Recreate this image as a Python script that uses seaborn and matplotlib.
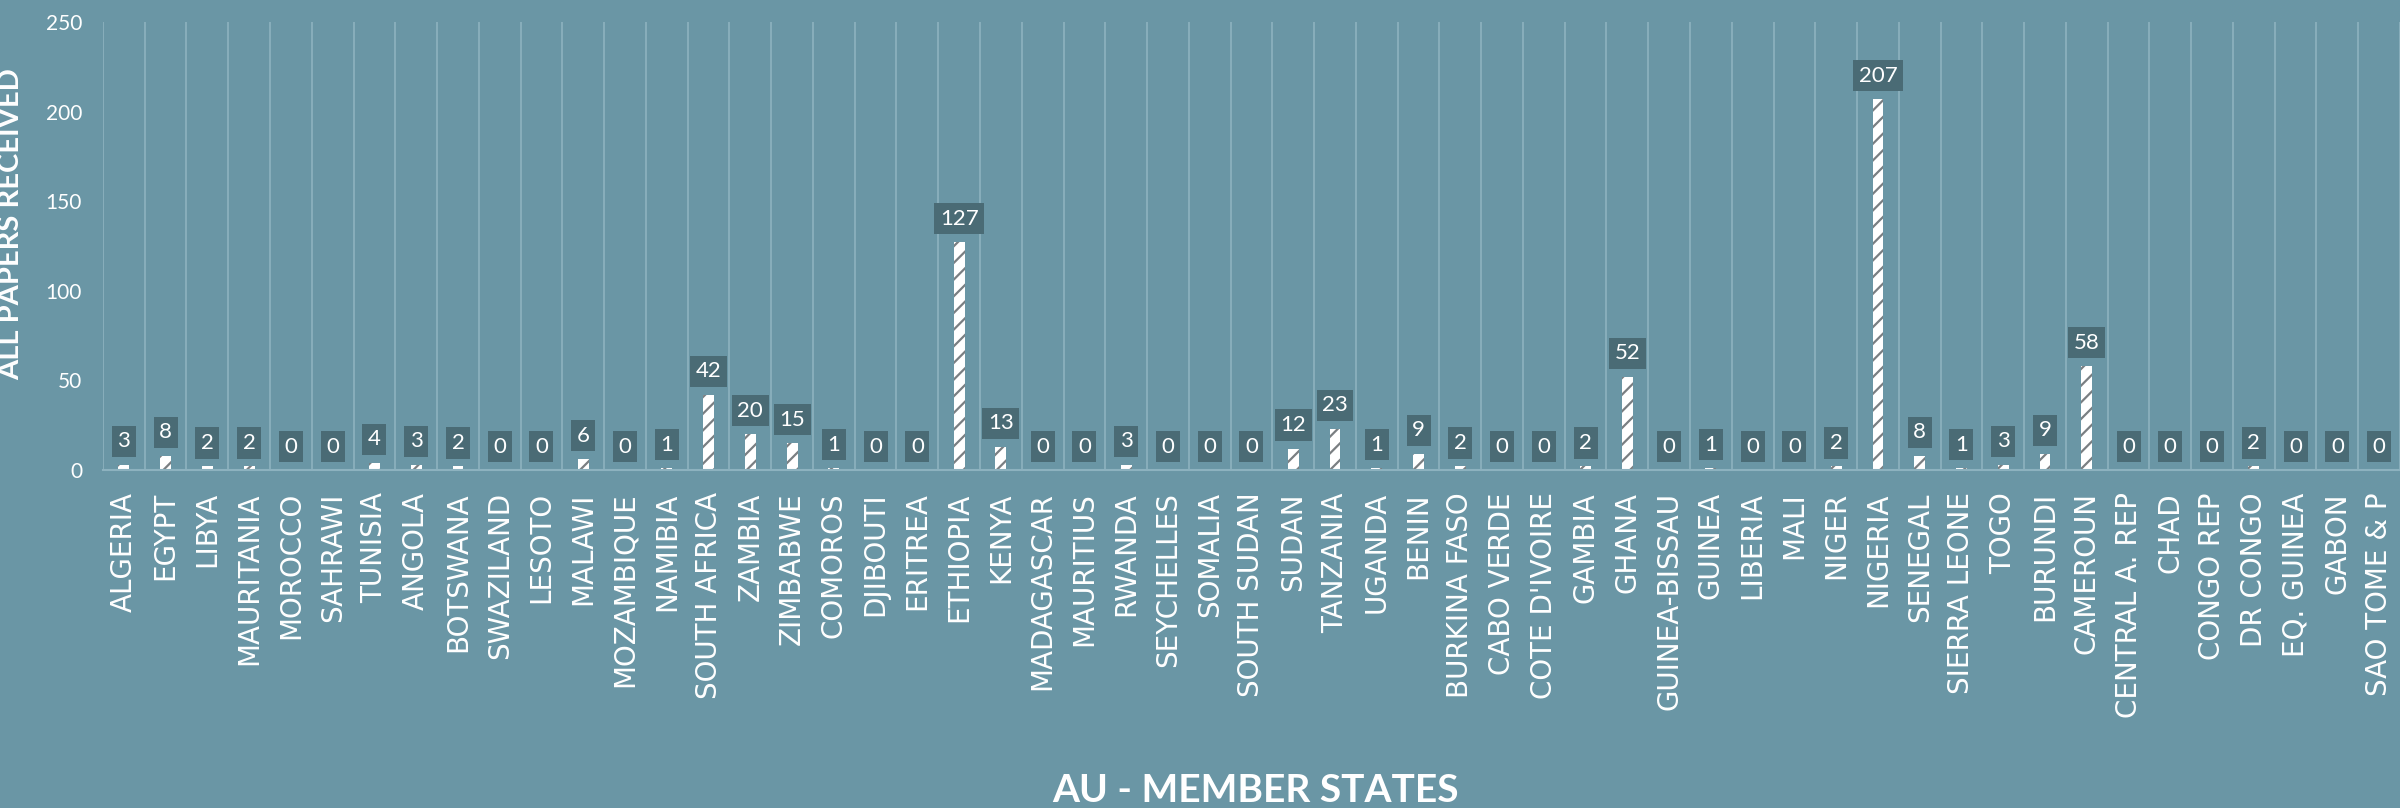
import matplotlib
matplotlib.use("Agg")
import matplotlib.pyplot as plt
import seaborn as sns
import numpy as np

countries = [
    "ALGERIA", "EGYPT", "LIBYA", "MAURITANIA", "MOROCCO", "SAHRAWI", "TUNISIA",
    "ANGOLA", "BOTSWANA", "SWAZILAND", "LESOTO", "MALAWI", "MOZAMBIQUE", "NAMIBIA",
    "SOUTH AFRICA", "ZAMBIA", "ZIMBABWE", "COMOROS", "DJIBOUTI", "ERITREA",
    "ETHIOPIA", "KENYA", "MADAGASCAR", "MAURITIUS", "RWANDA", "SEYCHELLES",
    "SOMALIA", "SOUTH SUDAN", "SUDAN", "TANZANIA", "UGANDA", "BENIN",
    "BURKINA FASO", "CABO VERDE", "COTE D'IVOIRE", "GAMBIA", "GHANA",
    "GUINEA-BISSAU", "GUINEA", "LIBERIA", "MALI", "NIGER", "NIGERIA", "SENEGAL",
    "SIERRA LEONE", "TOGO", "BURUNDI", "CAMEROUN", "CENTRAL A. REP", "CHAD",
    "CONGO REP", "DR CONGO", "EQ. GUINEA", "GABON", "SAO TOME & P",
]
papers = [
    3, 8, 2, 2, 0, 0, 4,
    3, 2, 0, 0, 6, 0, 1,
    42, 20, 15, 1, 0, 0,
    127, 13, 0, 0, 3, 0,
    0, 0, 12, 23, 1, 9,
    2, 0, 0, 2, 52,
    0, 1, 0, 0, 2, 207, 8,
    1, 3, 9, 58, 0, 0,
    0, 2, 0, 0, 0,
]
y_ticks = [0, 50, 100, 150, 200, 250]

BG = "#6a96a5"
BOX = "#4a6b75"
GRID = "#8db2bf"

sns.set_style("white")
plt.rcParams["font.family"] = ["DejaVu Sans"]
plt.rcParams["hatch.linewidth"] = 1.6

fig = plt.figure(figsize=(24, 8.08), dpi=100, facecolor=BG)
ax = fig.add_axes([0.0429, 0.4183, 0.9571, 0.5545])
ax.set_facecolor(BG)

sns.barplot(x=countries, y=papers, ax=ax, color="white", saturation=1,
            width=0.26, edgecolor="#7a7f82", linewidth=0, hatch="//")

# value boxes above each bar
for i, v in enumerate(papers):
    ax.annotate(str(v), (i, v), xytext=(0, 9.7), textcoords="offset points",
                ha="center", va="bottom", color="white", fontsize=16,
                family="Lato",
                bbox=dict(boxstyle="square,pad=0.25", fc=BOX, ec="none"))

ax.set_ylim(0, 250)
ax.set_xlim(-0.5, len(countries) - 0.5)
ax.set_yticks(y_ticks)
ax.set_yticklabels([str(t) for t in y_ticks])
ax.set_xticks(np.arange(len(countries)))
ax.set_xticklabels(countries, rotation=90)

# vertical separators between categories
ax.set_xticks(np.arange(len(countries) + 1) - 0.5, minor=True)
ax.grid(axis="x", which="minor", color=GRID, linewidth=1.2)
ax.grid(axis="y", visible=False)
ax.tick_params(axis="x", which="minor", length=0)
ax.tick_params(axis="x", which="major", length=0, pad=16, labelsize=20,
               labelcolor="white", labelfontfamily="DejaVu Sans")
ax.tick_params(axis="y", length=0, pad=15, labelsize=15, labelcolor="white",
               labelfontfamily="Lato")

for s in ["top", "right", "left"]:
    ax.spines[s].set_visible(False)
ax.spines["bottom"].set_color(GRID)
ax.spines["bottom"].set_linewidth(1.5)

ax.set_ylabel("ALL PAPERS RECEIVED", family="Lato", fontweight="bold",
              fontsize=21, color="white")
ax.yaxis.set_label_coords(-0.0344, 0.549)
ax.set_xlabel("")
fig.text(0.523, 0.022, "AU - MEMBER STATES", family="Lato", fontweight="bold",
         fontsize=28, color="white", ha="center", va="center")

fig.savefig("out.png", dpi=100, facecolor=BG)
